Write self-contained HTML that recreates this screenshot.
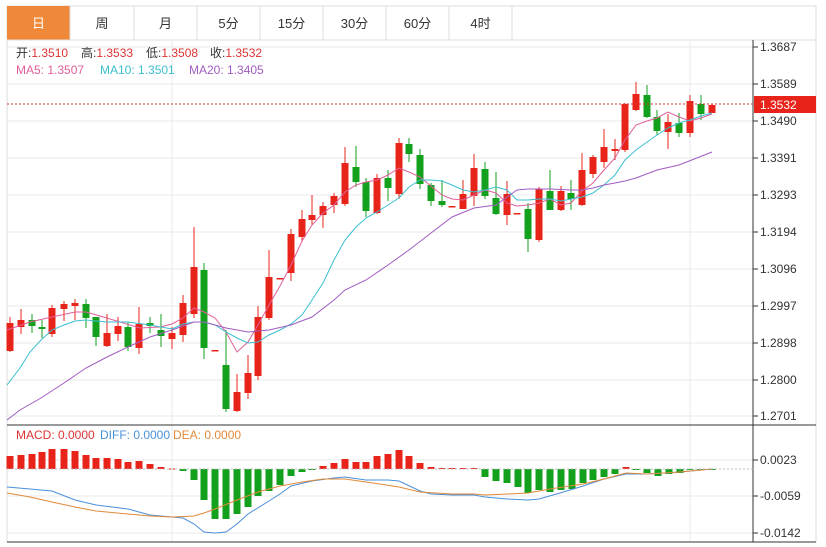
<!DOCTYPE html>
<html><head><meta charset="utf-8"><style>
body{margin:0;background:#fff;width:826px;height:547px;overflow:hidden;font-family:"Liberation Sans","Noto Sans CJK SC",sans-serif}
svg{position:absolute;left:0;top:0}
text{font-family:"Liberation Sans","Noto Sans CJK SC",sans-serif}
</style></head><body>
<svg id="s" width="826" height="547" viewBox="0 0 826 547">
<rect x="7" y="6" width="809" height="536" fill="#fff" stroke="#ddd"/>
<rect x="7" y="6" width="63" height="34" fill="#f0883a"/>
<g stroke="#ddd"><line x1="7" y1="40" x2="816" y2="40"/>
<line x1="70" y1="6" x2="70" y2="40"/><line x1="134" y1="6" x2="134" y2="40"/><line x1="197" y1="6" x2="197" y2="40"/><line x1="260" y1="6" x2="260" y2="40"/><line x1="323" y1="6" x2="323" y2="40"/><line x1="386" y1="6" x2="386" y2="40"/><line x1="449" y1="6" x2="449" y2="40"/><line x1="512" y1="6" x2="512" y2="40"/></g>
<g font-size="13" fill="#333" text-anchor="middle"><text x="38.5" y="28" fill="#fff">日</text><text x="102" y="28">周</text><text x="165.5" y="28">月</text><text x="228.5" y="28">5分</text><text x="291.5" y="28">15分</text><text x="354.5" y="28">30分</text><text x="417.5" y="28">60分</text><text x="480.5" y="28">4时</text></g>
<g id="grid" stroke="#e8e8e8"></g>
<line x1="172" y1="40" x2="172" y2="542" stroke="#e8e8e8"/><line x1="690" y1="40" x2="690" y2="542" stroke="#e8e8e8"/>
<line x1="7" y1="425" x2="816" y2="425" stroke="#333"/>
<line x1="753" y1="40" x2="753" y2="542" stroke="#333"/>
<line x1="7" y1="542" x2="816" y2="542" stroke="#333"/>
<g id="c"></g>
<line x1="7" y1="104" x2="753" y2="104" stroke="#d33" stroke-dasharray="2,2"/>
<line x1="7" y1="469" x2="753" y2="469" stroke="#bbb" stroke-dasharray="2,2"/>
<rect x="754" y="96" width="62" height="17" fill="#e8241a"/>
<text x="760" y="109" font-size="12" fill="#fff">1.3532</text>
<g font-size="12" fill="#333" id="ax"></g>
<g font-size="12">
<text x="16" y="57" fill="#333">开:<tspan fill="#d33">1.3510</tspan></text>
<text x="81" y="57" fill="#333">高:<tspan fill="#d33">1.3533</tspan></text>
<text x="146" y="57" fill="#333">低:<tspan fill="#d33">1.3508</tspan></text>
<text x="210" y="57" fill="#333">收:<tspan fill="#d33">1.3532</tspan></text>
<text x="16" y="74" fill="#e0609a">MA5: 1.3507</text>
<text x="100" y="74" fill="#3bbfd0">MA10: 1.3501</text>
<text x="189" y="74" fill="#a05cc0">MA20: 1.3405</text>
<text x="16" y="439" fill="#d33">MACD: 0.0000</text>
<text x="100" y="439" fill="#4a90d9">DIFF: 0.0000</text>
<text x="173" y="439" fill="#e08a3a">DEA: 0.0000</text>
</g>
</svg>
<script>
const NS="http://www.w3.org/2000/svg";
function el(p,t,a){const e=document.createElementNS(NS,t);for(const k in a)e.setAttribute(k,a[k]);p.appendChild(e);return e;}
const g=document.getElementById('grid'),c=document.getElementById('c'),ax=document.getElementById('ax');
const ticks=[[47,'1.3687'],[84,'1.3589'],[121,'1.3490'],[158,'1.3391'],[195,'1.3293'],[232,'1.3194'],[269,'1.3096'],[306,'1.2997'],[343,'1.2898'],[380,'1.2800'],[416,'1.2701'],[460,'0.0023'],[496,'-0.0059'],[533,'-0.0142']];
ticks.forEach(([y,t])=>{el(g,'line',{x1:7,y1:y,x2:753,y2:y});el(ax,'line',{x1:753,y1:y,x2:758,y2:y,stroke:'#333'});const e=el(ax,'text',{x:760,y:y+4});e.textContent=t;});
const C=[[10,'r',323,351,317,352],[21,'r',320,327,309,334],[32,'g',320,326,314,333],[42,'g',327,329,320,338],[52,'r',308,334,305,337],[64,'r',304,309,301,321],[75,'r',303,306,299,320],[86,'g',304,318,299,328],[96,'g',317,337,317,346],[107,'r',333,346,314,347],[118,'r',326,334,317,341],[128,'g',327,347,322,351],[139,'r',324,348,307,354],[150,'g',323,326,317,333],[161,'g',330,336,314,347],[172,'r',333,339,327,349],[183,'r',303,335,295,342],[194,'r',267,314,227,318],[204,'g',270,348,263,359],[215,'r',350,351,350,351],[226,'g',365,409,330,412],[237,'r',392,411,374,412],[248,'r',373,393,355,399],[258,'r',317,376,306,380],[269,'r',277,318,250,320],[280,'r',278,279,278,279],[291,'r',234,273,229,281],[302,'r',219,237,210,242],[312,'r',215,220,195,225],[323,'r',206,215,202,228],[334,'r',196,205,193,213],[345,'r',163,204,147,206],[356,'g',167,182,146,187],[366,'g',182,211,178,217],[377,'r',178,213,174,214],[388,'g',178,188,170,201],[399,'r',143,194,138,199],[409,'g',144,154,138,162],[420,'g',155,184,149,189],[431,'g',185,201,183,206],[442,'g',201,205,180,207],[452,'r',206,207,206,207],[463,'r',194,209,180,209],[474,'r',168,196,154,206],[485,'g',169,196,162,199],[496,'g',198,214,172,215],[507,'r',194,215,181,225],[517,'r',213,214,213,214],[528,'g',209,239,203,252],[539,'r',189,240,187,242],[550,'g',191,210,170,210],[561,'r',191,210,186,211],[571,'g',193,199,180,210],[582,'r',170,205,153,206],[593,'r',157,174,155,178],[604,'r',147,162,129,168],[615,'r',149,151,139,160],[625,'r',104,150,103,152],[636,'r',94,110,82,111],[647,'g',95,117,85,118],[657,'g',117,131,110,135],[668,'r',122,132,114,149],[679,'g',123,133,113,137],[690,'r',101,133,95,137],[701,'g',104,114,95,120],[712,'r',105,113,104,113]];
C.forEach(([x,k,t,b,h,l])=>{const col=k=='r'?'#e8241a':'#13a01d';el(c,'line',{x1:x,y1:h,x2:x,y2:l,stroke:col});el(c,'rect',{x:x-3.5,y:t,width:7,height:Math.max(1.5,b-t),fill:col});});
function pl(pts,col){el(c,'polyline',{points:pts,fill:'none',stroke:col,'stroke-width':1});}
pl("7,330 30,322 52,317 75,312 86,312 100,316 120,322 140,328 160,327 172,324 183,318 194,308 204,312 215,318 226,332 237,352 248,342 258,325 269,305 280,286 291,265 302,241 312,225 323,213 334,205 345,192 356,185 366,182 377,180 388,175 399,168 409,172 420,177 431,186 442,195 452,199 463,200 474,195 485,190 496,193 507,203 517,206 528,205 539,203 550,199 561,205 571,203 582,191 593,183 604,170 615,158 625,140 636,125 647,121 657,118 668,112 679,117 690,121 701,118 712,114","#e0609a");
pl("7,385 20,368 30,352 41,340 52,330 64,325 75,321 86,320 107,322 128,322 150,325 172,329 183,324 194,322 204,322 215,325 226,332 237,338 248,343 258,342 269,335 280,330 291,324 302,315 312,300 323,283 334,260 345,240 356,227 366,218 377,212 388,205 399,198 409,187 420,180 431,180 442,181 452,185 463,190 474,192 485,190 496,187 507,190 517,200 528,200 539,199 550,199 561,201 571,199 582,197 593,193 604,185 615,175 625,160 636,150 647,142 657,135 668,128 679,123 690,120 701,116 712,113","#3bbfd0");
pl("7,420 20,410 41,398 64,383 86,368 107,357 128,347 150,337 172,330 183,326 194,322 204,322 226,328 248,332 269,330 291,325 312,317 334,300 345,290 366,280 388,265 409,250 431,233 452,217 474,208 496,205 517,190 528,189 550,189 571,190 582,190 593,188 604,185 615,183 625,181 636,178 657,170 679,165 712,152","#a05cc0");
const M=[[10,456],[21,455],[32,454],[42,452],[52,449],[64,449],[75,451],[86,455],[96,458],[107,458],[118,459],[128,462],[139,461],[150,464],[161,467],[172,468.5],[183,471],[194,480],[204,500],[215,519],[226,519],[237,514],[248,507],[258,496],[269,491],[280,485],[291,476],[302,472],[312,469.5],[323,466],[334,463],[345,459],[356,462],[366,462],[377,456],[388,454],[399,450],[409,456],[420,463],[431,467],[442,468],[452,468],[463,468],[474,468],[485,477],[496,481],[507,483],[518,487],[528,493],[539,490],[550,492],[561,490],[572,489],[583,483],[593,480],[604,477],[615,474],[626,467],[636,469.5],[647,473],[658,476],[669,474],[680,473],[690,470],[701,470],[712,469.5]];
M.forEach(([x,y])=>{const r=y<469;el(c,'rect',{x:x-3.5,y:r?y:469,width:7,height:Math.max(1,Math.abs(y-469)),fill:r?'#e8241a':'#13a01d'});});
pl("7,487 30,489 52,491 75,500 96,505 128,509 150,515 172,517 183,518 194,524 204,532 215,533 226,532 237,524 248,514 269,501 280,494 291,486 312,481 334,478 345,477 366,480 388,480 399,481 420,491 431,494 452,495 474,495 485,497 507,499 528,500 539,499 560,493 583,486 604,479 626,474 647,474 680,472 712,469","#4a90d9");
pl("7,493 30,497 52,502 75,507 96,511 128,514 150,516 172,517 194,516 204,513 215,509 237,500 258,492 280,486 302,482 323,479 345,479 366,482 399,487 420,492 452,494 474,494 485,495 507,494 528,493 550,489 583,484 604,479 626,473 647,474 680,472 712,469","#e08a3a");
</script>
</body></html>
